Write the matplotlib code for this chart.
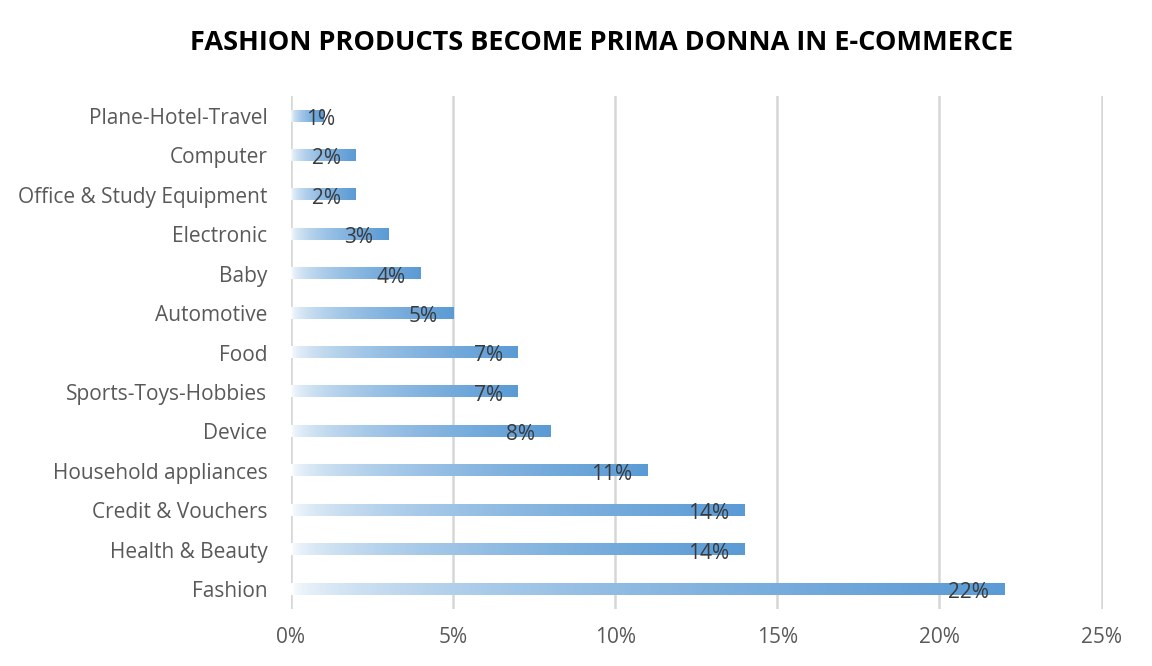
import matplotlib.pyplot as plt
import numpy as np
from matplotlib.colors import LinearSegmentedColormap

# data (top to bottom as in the chart)
categories = ['Plane-Hotel-Travel', 'Computer', 'Office & Study Equipment',
              'Electronic', 'Baby', 'Automotive', 'Food', 'Sports-Toys-Hobbies',
              'Device', 'Household appliances', 'Credit & Vouchers',
              'Health & Beauty', 'Fashion']
values = [1, 2, 2, 3, 4, 5, 7, 7, 8, 11, 14, 14, 22]
xticks = [0, 5, 10, 15, 20, 25]

plt.rcParams['font.family'] = ['Open Sans', 'DejaVu Sans']

fig = plt.figure(figsize=(11.52, 6.66), dpi=100)
ax = fig.add_axes([0.2526, 0.086, 0.705, 0.7694])

cmap = LinearSegmentedColormap.from_list('grad', ['#ffffff', '#5b9bd5'])
grad = np.linspace(0, 1, 256) ** 0.5
grad = grad.reshape(1, -1)

n = len(categories)
ypos = np.arange(n)[::-1]
h = 0.28
for y, v in zip(ypos, values):
    ax.imshow(grad, cmap=cmap, aspect='auto', interpolation='bilinear',
              extent=(0, v, y - h / 2, y + h / 2), zorder=3, vmin=0, vmax=1)
    if v < 2:
        ax.annotate(f'{v}%', xy=(0, y), xytext=(10.5, -2.5), textcoords='offset points',
                    ha='left', va='center', fontsize=15, color='#3a3a3a', zorder=4)
    else:
        ax.annotate(f'{v}%', xy=(v, y), xytext=(-11, -2.5), textcoords='offset points',
                    ha='right', va='center', fontsize=15, color='#3a3a3a', zorder=4)

ax.set_xlim(0, 25.05)
ax.set_ylim(-0.5, n - 0.5)
ax.set_yticks(ypos)
ax.set_yticklabels(categories)
ax.set_xticks(xticks)
ax.set_xticklabels([f'{t}%' for t in xticks])
ax.tick_params(axis='both', length=0, labelsize=15, colors='#595959')
ax.tick_params(axis='y', pad=17)
ax.tick_params(axis='x', pad=13)
for s in ax.spines.values():
    s.set_visible(False)
ax.grid(axis='x', color='#d6d6d6', linewidth=1.8, zorder=0)
ax.set_axisbelow(True)

fig.text(0.522, 0.935, 'FASHION PRODUCTS BECOME PRIMA DONNA IN E-COMMERCE',
         ha='center', va='center', fontsize=19.5, fontweight='bold', color='#000000')

plt.savefig('out.png', dpi=100)
